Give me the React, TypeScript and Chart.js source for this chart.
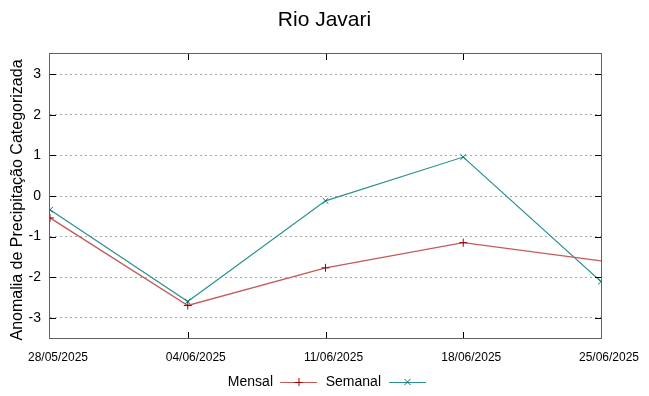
import { useEffect, useRef } from 'react';
import { Chart, registerables } from 'chart.js';

Chart.register(...registerables);

const dayOffsets = [0, 7, 14, 21, 28];
const tickLabels = ['28/05/2025', '04/06/2025', '11/06/2025', '18/06/2025', '25/06/2025'];
const mensal = [-0.54, -2.7, -1.77, -1.15, -1.6];
const mensalMarker = [true, true, true, true, false];
const semanal = [-0.34, -2.6, -0.12, 0.96, -2.11];
const yTicks = [-3, -2, -1, 0, 1, 2, 3];

const titleText = 'Rio Javari';
const yTitleText = 'Anomalia de Precipitação Categorizada';
const seriesNames = ['Mensal', 'Semanal'];

const mensalLine = '#c45a5a';
const mensalPoint = '#a00000';
const semanalLine = '#2a9090';
const semanalPoint = '#007070';

const FONT = '"Liberation Sans", Arial, sans-serif';

const decorPlugin = {
  id: 'decor',
  afterDraw(chart: any) {
    const { ctx, chartArea: a } = chart;
    const xs = chart.scales.x;
    const ys = chart.scales.y;
    ctx.save();
    // border
    ctx.strokeStyle = '#606060';
    ctx.lineWidth = 1;
    ctx.setLineDash([]);
    ctx.strokeRect(Math.round(a.left) - 0.5, Math.round(a.top) - 0.5, Math.round(a.right - a.left) + 1, Math.round(a.bottom - a.top) + 1);
    // ticks
    ctx.strokeStyle = '#000';
    ctx.beginPath();
    yTicks.forEach((v) => {
      const py = Math.round(ys.getPixelForValue(v)) + 0.5;
      ctx.moveTo(a.left, py);
      ctx.lineTo(a.left + 6, py);
      ctx.moveTo(a.right - 6, py);
      ctx.lineTo(a.right, py);
    });
    dayOffsets.forEach((d, i) => {
      if (i === 0 || i === dayOffsets.length - 1) return;
      const px = Math.round(xs.getPixelForValue(d)) + 0.5;
      ctx.moveTo(px, a.bottom);
      ctx.lineTo(px, a.bottom - 6);
      ctx.moveTo(px, a.top);
      ctx.lineTo(px, a.top + 6);
    });
    ctx.stroke();
    // title
    ctx.fillStyle = '#000';
    ctx.font = `21px ${FONT}`;
    ctx.textAlign = 'center';
    ctx.textBaseline = 'middle';
    ctx.fillText(titleText, chart.width / 2, 20);
    // y title
    ctx.save();
    ctx.translate(18, 200);
    ctx.rotate(-Math.PI / 2);
    ctx.font = `16px ${FONT}`;
    ctx.fillText(yTitleText, 0, 0);
    ctx.restore();
    // legend
    const ly = 382;
    ctx.font = `14px ${FONT}`;
    ctx.textAlign = 'right';
    const entries = [
      { name: seriesNames[0], textEnd: 273, x0: 280, x1: 317, line: mensalLine, point: mensalPoint, style: 'plus' },
      { name: seriesNames[1], textEnd: 381, x0: 389, x1: 426, line: semanalLine, point: semanalPoint, style: 'x' },
    ];
    entries.forEach((e) => {
      ctx.fillStyle = '#000';
      ctx.fillText(e.name, e.textEnd, ly);
      ctx.strokeStyle = e.line;
      ctx.lineWidth = 1;
      ctx.beginPath();
      ctx.moveTo(e.x0, ly + 0.5);
      ctx.lineTo(e.x1, ly + 0.5);
      ctx.stroke();
      const cx = (e.x0 + e.x1) / 2;
      ctx.strokeStyle = e.point;
      ctx.beginPath();
      if (e.style === 'plus') {
        ctx.moveTo(cx - 4, ly + 0.5);
        ctx.lineTo(cx + 4, ly + 0.5);
        ctx.moveTo(cx + 0.5, ly - 4);
        ctx.lineTo(cx + 0.5, ly + 4);
      } else {
        ctx.moveTo(cx - 3, ly - 3);
        ctx.lineTo(cx + 3, ly + 3);
        ctx.moveTo(cx - 3, ly + 3);
        ctx.lineTo(cx + 3, ly - 3);
      }
      ctx.stroke();
    });
    ctx.restore();
  },
};

export default function App() {
  const ref = useRef<HTMLCanvasElement | null>(null);
  useEffect(() => {
    document.body.style.margin = '0';
    const canvas = ref.current;
    if (!canvas) return;
    const chart = new Chart(canvas, {
      type: 'line',
      data: {
        datasets: [
          {
            label: seriesNames[0],
            data: dayOffsets.map((d, i) => ({ x: d, y: mensal[i] })),
            borderColor: mensalLine,
            borderWidth: 1.4,
            pointStyle: 'cross',
            pointRadius: mensalMarker.map((m) => (m ? 4 : 0)),
            pointBorderColor: mensalPoint,
            pointBorderWidth: 1,
            tension: 0,
          },
          {
            label: seriesNames[1],
            data: dayOffsets.map((d, i) => ({ x: d, y: semanal[i] })),
            borderColor: semanalLine,
            borderWidth: 1.2,
            pointStyle: 'crossRot',
            pointRadius: 4,
            pointBorderColor: semanalPoint,
            pointBorderWidth: 1,
            tension: 0,
          },
        ],
      },
      options: {
        responsive: false,
        animation: false,
        layout: { padding: { top: 54, right: 48, bottom: 0, left: 0 } },
        plugins: { legend: { display: false }, title: { display: false }, tooltip: { enabled: false } },
        scales: {
          x: {
            type: 'linear',
            min: dayOffsets[0],
            max: dayOffsets[dayOffsets.length - 1],
            afterBuildTicks: (s: any) => {
              s.ticks = dayOffsets.map((v) => ({ value: v }));
            },
            afterFit: (s: any) => {
              s.height = 58;
            },
            ticks: {
              callback: (v: any) => tickLabels[dayOffsets.indexOf(Number(v))] ?? '',
              font: { family: FONT, size: 12 },
              color: '#000',
              maxRotation: 0,
              autoSkip: false,
              padding: 12,
              labelOffset: 8,
            },
            grid: { display: false, drawTicks: false },
            border: { display: false },
          },
          y: {
            min: -3.5,
            max: 3.5,
            afterBuildTicks: (s: any) => {
              s.ticks = yTicks.map((v) => ({ value: v }));
            },
            afterFit: (s: any) => {
              s.width = 50;
            },
            ticks: {
              font: { family: FONT, size: 14 },
              color: '#000',
              padding: 9,
            },
            grid: { color: '#a8a8a8', drawTicks: false, lineWidth: 1 },
            border: { display: false, dash: [2, 3] },
          },
        },
      },
      plugins: [decorPlugin],
    });
    return () => chart.destroy();
  }, []);
  return <canvas ref={ref} width={649} height={396} style={{ display: 'block' }} />;
}
